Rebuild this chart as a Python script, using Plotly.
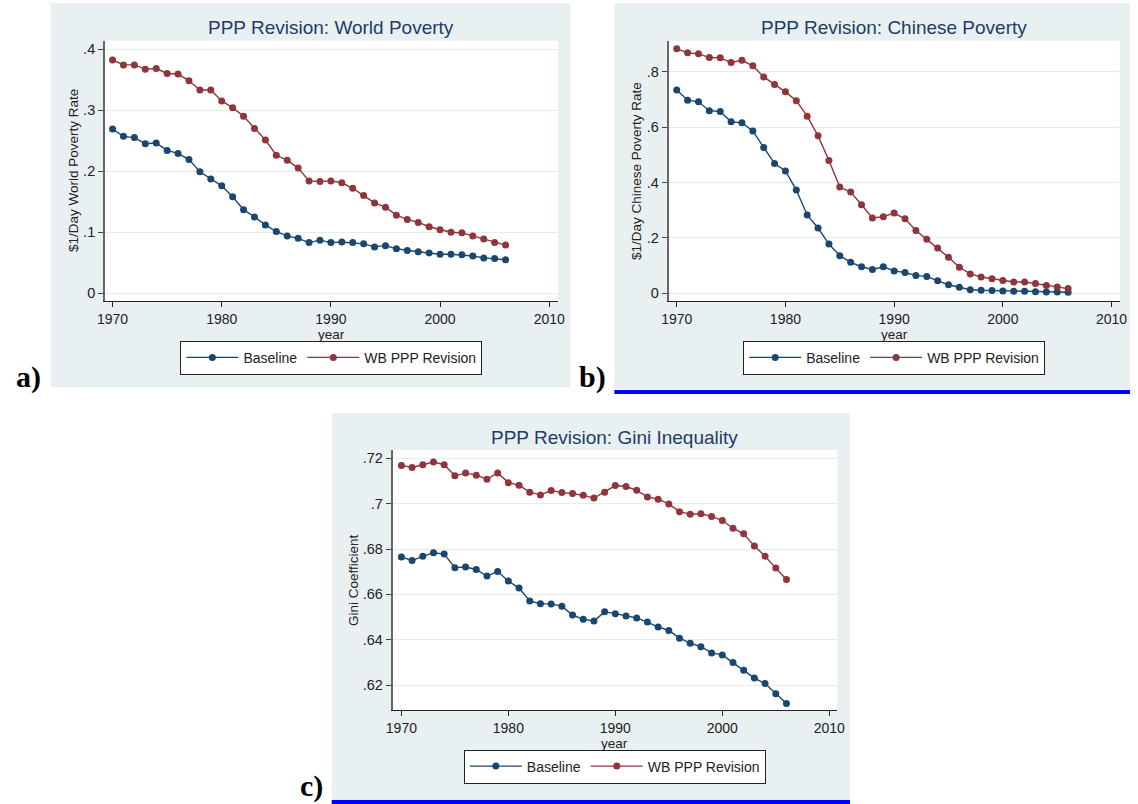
import plotly.graph_objects as go

W, H = 1138, 804

years = list(range(1970, 2007))

world_base = [0.269, 0.257, 0.255, 0.245, 0.246, 0.234, 0.229, 0.219, 0.199, 0.187,
              0.176, 0.158, 0.137, 0.125, 0.112, 0.101, 0.094, 0.090, 0.083, 0.087,
              0.083, 0.084, 0.083, 0.081, 0.076, 0.078, 0.073, 0.070, 0.068, 0.066,
              0.064, 0.064, 0.063, 0.061, 0.058, 0.057, 0.055]
world_wb = [0.382, 0.374, 0.374, 0.367, 0.368, 0.360, 0.359, 0.348, 0.333, 0.333,
            0.315, 0.304, 0.290, 0.270, 0.251, 0.226, 0.218, 0.205, 0.184, 0.183,
            0.184, 0.181, 0.172, 0.160, 0.148, 0.141, 0.128, 0.121, 0.116, 0.109,
            0.104, 0.100, 0.099, 0.094, 0.089, 0.083, 0.079]

china_base = [0.735, 0.698, 0.692, 0.660, 0.657, 0.620, 0.616, 0.587, 0.527, 0.469,
              0.442, 0.373, 0.283, 0.236, 0.178, 0.136, 0.112, 0.096, 0.086, 0.096,
              0.081, 0.075, 0.064, 0.061, 0.045, 0.031, 0.022, 0.013, 0.011, 0.010,
              0.008, 0.007, 0.007, 0.006, 0.005, 0.005, 0.004]
china_wb = [0.884, 0.869, 0.866, 0.852, 0.851, 0.834, 0.842, 0.822, 0.782, 0.755,
            0.728, 0.696, 0.640, 0.569, 0.480, 0.384, 0.366, 0.320, 0.272, 0.277,
            0.290, 0.269, 0.227, 0.195, 0.164, 0.130, 0.094, 0.070, 0.059, 0.053,
            0.046, 0.041, 0.041, 0.035, 0.028, 0.023, 0.017]

gini_base = [0.6765, 0.6749, 0.6768, 0.6784, 0.6778, 0.6718, 0.6721, 0.6710, 0.6681, 0.6701,
             0.6659, 0.6628, 0.6571, 0.6559, 0.6558, 0.6548, 0.6509, 0.6490, 0.6483, 0.6523,
             0.6515, 0.6505, 0.6496, 0.6478, 0.6456, 0.6441, 0.6407, 0.6385, 0.6369, 0.6342,
             0.6333, 0.6299, 0.6265, 0.6231, 0.6207, 0.6162, 0.6119]
gini_wb = [0.7169, 0.7160, 0.7172, 0.7184, 0.7172, 0.7123, 0.7135, 0.7126, 0.7108, 0.7136,
           0.7093, 0.7082, 0.7051, 0.7039, 0.7058, 0.7049, 0.7045, 0.7037, 0.7025, 0.7051,
           0.7080, 0.7076, 0.7059, 0.7030, 0.7020, 0.6999, 0.6965, 0.6954, 0.6956, 0.6944,
           0.6926, 0.6892, 0.6867, 0.6814, 0.6768, 0.6716, 0.6666]

x_ticks = [1970, 1980, 1990, 2000, 2010]
world_ticks = [0, 0.1, 0.2, 0.3, 0.4]
world_ticktext = ["0", ".1", ".2", ".3", ".4"]
china_ticks = [0, 0.2, 0.4, 0.6, 0.8]
china_ticktext = ["0", ".2", ".4", ".6", ".8"]
gini_ticks = [0.62, 0.64, 0.66, 0.68, 0.70, 0.72]
gini_ticktext = [".62", ".64", ".66", ".68", ".7", ".72"]

NAVY = "#1a476f"
MAROON = "#90353b"
BG = "#e8f0f2"
GRID = "#e4ecee"
TITLE_C = "#233b66"
FONT = "Liberation Sans, Arial, sans-serif"


def px(x):
    return x / W


def py(y):
    return 1 - y / H


# one dict per graph: domains in page pixels, axis ranges, ticks and texts
panels = [
    dict(ax="", xd=(98.3, 557.7), yd=(40.7, 301.3), xr=(1969.30, 2010.79), yr=(-0.0131, 0.4136),
         tv=world_ticks, tt=world_ticktext, title="PPP Revision: World Poverty",
         ytitle="$1/Day World Poverty Rate", ytx=66, base=world_base, wb=world_wb,
         leg="legend", letter="a)", lx=20.5, ly=377),
    dict(ax="2", xd=(670, 1127.7), yd=(40.7, 301.3), xr=(1969.25, 2010.76), yr=(-0.0289, 0.9129),
         tv=china_ticks, tt=china_ticktext, title="PPP Revision: Chinese Poverty",
         ytitle="$1/Day Chinese Poverty Rate", ytx=637, base=china_base, wb=china_wb,
         leg="legend2", letter="b)", lx=593, ly=377),
    dict(ax="3", xd=(390, 841), yd=(450, 710), xr=(1969.17, 2010.74), yr=(0.609, 0.7237),
         tv=gini_ticks, tt=gini_ticktext, title="PPP Revision: Gini Inequality",
         ytitle="Gini Coefficient", ytx=350, base=gini_base, wb=gini_wb,
         leg="legend3", letter="c)", lx=307.5, ly=786),
]

fig = go.Figure()
layout = dict(width=W, height=H, margin=dict(l=0, r=0, t=0, b=0),
              paper_bgcolor="white", plot_bgcolor="rgba(0,0,0,0)",
              font=dict(family=FONT, color="#222"), shapes=[], annotations=[])

# graph region backgrounds and the blue rules under b and c
for x0, y0, x1, y1, col in [(43.3, 3.3, 570.7, 387.3, BG), (615, 3.3, 1138, 389, BG),
                            (328.3, 413.3, 854, 800, BG),
                            (615, 390, 1138, 394, "#0000ff"), (328.3, 800, 854, 804, "#0000ff")]:
    layout["shapes"].append(dict(type="rect", xref="paper", yref="paper", layer="below",
                                 x0=px(x0), x1=px(x1), y0=py(y1), y1=py(y0),
                                 fillcolor=col, line=dict(width=0)))

for p in panels:
    xa, ya = "x" + p["ax"], "y" + p["ax"]
    xd = [px(p["xd"][0]), px(p["xd"][1])]
    yd = [py(p["yd"][1]), py(p["yd"][0])]
    layout["shapes"].append(dict(type="rect", xref="paper", yref="paper", layer="below",
                                 x0=xd[0], x1=xd[1], y0=yd[0], y1=yd[1],
                                 fillcolor="white", line=dict(width=0)))
    layout["xaxis" + p["ax"]] = dict(domain=xd, anchor=ya, range=list(p["xr"]), tickvals=x_ticks,
                                     ticks="outside", ticklen=5, tickcolor="#222", showgrid=False,
                                     zeroline=False, showline=True, linecolor="#222", linewidth=1.3,
                                     tickfont=dict(size=14, color="#222"))
    layout["yaxis" + p["ax"]] = dict(domain=yd, anchor=xa, range=list(p["yr"]), tickvals=p["tv"],
                                     ticktext=p["tt"], ticks="outside", ticklen=5, tickcolor="#444",
                                     showgrid=True, gridcolor=GRID, gridwidth=1, zeroline=False,
                                     showline=True, linecolor="#666", linewidth=1.6,
                                     tickfont=dict(size=14.5, color="#222"))
    cx = (p["xd"][0] + p["xd"][1]) / 2
    cy = (p["yd"][0] + p["yd"][1]) / 2
    # title, axis titles, panel letter
    layout["annotations"] += [
        dict(text=p["title"], x=px(cx), y=py(p["yd"][0] - 12.7), xref="paper", yref="paper",
             showarrow=False, xanchor="center", yanchor="middle",
             font=dict(size=19, color=TITLE_C)),
        dict(text="year", x=px(cx), y=py(p["yd"][1] + 33), xref="paper", yref="paper",
             showarrow=False, xanchor="center", yanchor="middle", font=dict(size=13.5, color="#222")),
        dict(text=p["ytitle"], x=px(p["ytx"]), y=py(cy), xref="paper", yref="paper",
             showarrow=False, xanchor="center", yanchor="middle", textangle=-90,
             font=dict(size=13.5, color="#222")),
        dict(text="<b>" + p["letter"] + "</b>", x=px(p["lx"]), y=py(p["ly"]), xref="paper",
             yref="paper", showarrow=False, xanchor="center", yanchor="middle",
             font=dict(size=30, color="black", family="Liberation Serif, Times New Roman, serif")),
    ]
    layout[p["leg"]] = dict(orientation="h", x=px(cx), y=py(p["yd"][1] + 56.5), xanchor="center",
                            yanchor="middle", xref="paper", yref="paper", bgcolor="white",
                            bordercolor="#222", borderwidth=1, itemwidth=52,
                            font=dict(size=14, color="#222"))
    for name, vals, col in [("Baseline", p["base"], NAVY), ("WB PPP Revision", p["wb"], MAROON)]:
        fig.add_trace(go.Scatter(x=years, y=vals, name=name, mode="lines+markers", xaxis=xa, yaxis=ya,
                                 legend=p["leg"], line=dict(color=col, width=1.4),
                                 marker=dict(color=col, size=7)))

fig.update_layout(**layout)
fig.write_html("out.html", config={"displayModeBar": False},
               post_script="document.body.style.margin='0';")
